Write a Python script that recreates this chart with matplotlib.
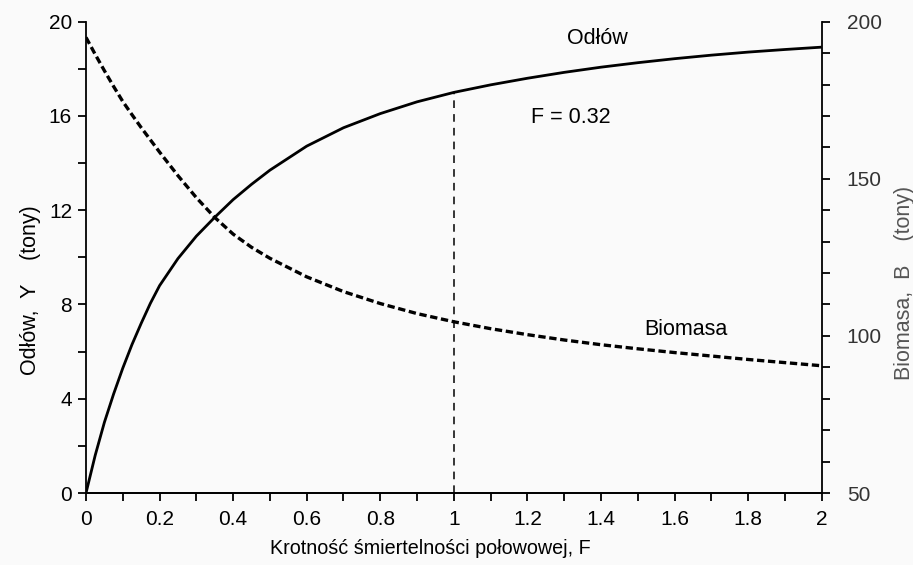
import matplotlib.pyplot as plt
from matplotlib.ticker import MultipleLocator, FormatStrFormatter

plt.rcParams['font.family'] = ['Liberation Sans', 'DejaVu Sans']

# fishing mortality multiplier F, yield curve (left axis, tonnes)
F_odlow = [0, 0.025, 0.05, 0.075, 0.1, 0.125, 0.15, 0.175, 0.2, 0.25, 0.3,
           0.35, 0.4, 0.45, 0.5, 0.6, 0.7, 0.8, 0.9, 1.0, 1.1, 1.2, 1.3,
           1.4, 1.5, 1.6, 1.7, 1.8, 1.9, 2.0]
odlow = [0, 1.6, 3.0, 4.2, 5.3, 6.3, 7.2, 8.05, 8.8, 9.95, 10.9,
         11.7, 12.45, 13.1, 13.7, 14.72, 15.5, 16.1, 16.6, 17.0, 17.32,
         17.6, 17.85, 18.07, 18.26, 18.43, 18.58, 18.71, 18.82, 18.92]

# biomass curve (right axis, tonnes)
F_biomasa = [0, 0.025, 0.05, 0.075, 0.1, 0.125, 0.15, 0.175, 0.2, 0.25,
             0.3, 0.35, 0.4, 0.45, 0.5, 0.6, 0.7, 0.8, 0.9, 1.0, 1.1, 1.2,
             1.3, 1.4, 1.5, 1.6, 1.7, 1.8, 1.9, 2.0]
biomasa = [195.0, 189.6, 184.4, 179.4, 174.6, 170.4, 166.3, 162.4, 158.5,
           151.0, 144.0, 137.7, 132.4, 128.2, 124.7, 118.8, 114.1, 110.3,
           107.1, 104.5, 102.3, 100.4, 98.7, 97.2, 95.9, 94.7, 93.6, 92.5,
           91.5, 90.5]

F_ref = 1.0
Y_ref = 17.0

fig = plt.figure(figsize=(9.13, 5.65), dpi=100, facecolor='#fafafa')
ax = fig.add_axes([0.0942, 0.1274, 0.8058, 0.8342])
ax.patch.set_visible(False)
ax2 = ax.twinx()

ax.plot(F_odlow, odlow, color='black', lw=2.0, solid_capstyle='butt')
ax2.plot(F_biomasa, biomasa, color='black', lw=2.4, dashes=(2.2, 1.1))
ax.vlines(F_ref, 0, Y_ref, color='black', lw=1.1, linestyles=(0, (5, 4)))

ax.set_xlim(0, 2)
ax.set_ylim(0, 20)
ax2.set_ylim(50, 200)

ax.xaxis.set_major_locator(MultipleLocator(0.2))
ax.xaxis.set_minor_locator(MultipleLocator(0.1))
ax.xaxis.set_major_formatter(FormatStrFormatter('%g'))
ax.yaxis.set_major_locator(MultipleLocator(4))
ax.yaxis.set_minor_locator(MultipleLocator(2))
ax2.yaxis.set_major_locator(MultipleLocator(50))
ax2.yaxis.set_minor_locator(MultipleLocator(10))

for a in (ax, ax2):
    a.spines['top'].set_visible(False)
    for s in a.spines.values():
        s.set_linewidth(1.3)
    a.tick_params(which='both', direction='out', width=1.3, length=6,
                  labelsize=15, pad=5)
ax.spines['right'].set_visible(False)
ax2.spines['left'].set_visible(False)
ax.tick_params(axis='y', pad=4)
ax.tick_params(axis='x', pad=6)
ax2.tick_params(axis='y', labelcolor='#333333', pad=12)

ax.set_xlabel('Krotność śmiertelności połowowej, F', fontsize=14.2)
ax.xaxis.set_label_coords(0.468, -0.098)
ax.set_ylabel('Odłów,  Y    (tony)', fontsize=15.5)
ax.yaxis.set_label_coords(-0.061, 0.43)
ax2.set_ylabel('Biomasa,  B    (tony)', fontsize=15.5, color='#555555')
ax2.yaxis.set_label_coords(1.098, 0.445)

ax.text(1.39, 19.3, 'Odłów', fontsize=15.5, ha='center', va='center')
ax.text(1.21, 15.95, 'F = 0.32', fontsize=15.5, ha='left', va='center')
ax.text(1.63, 6.95, 'Biomasa', fontsize=15.5, ha='center', va='center')

fig.savefig('out.png', dpi=100, facecolor=fig.get_facecolor())
